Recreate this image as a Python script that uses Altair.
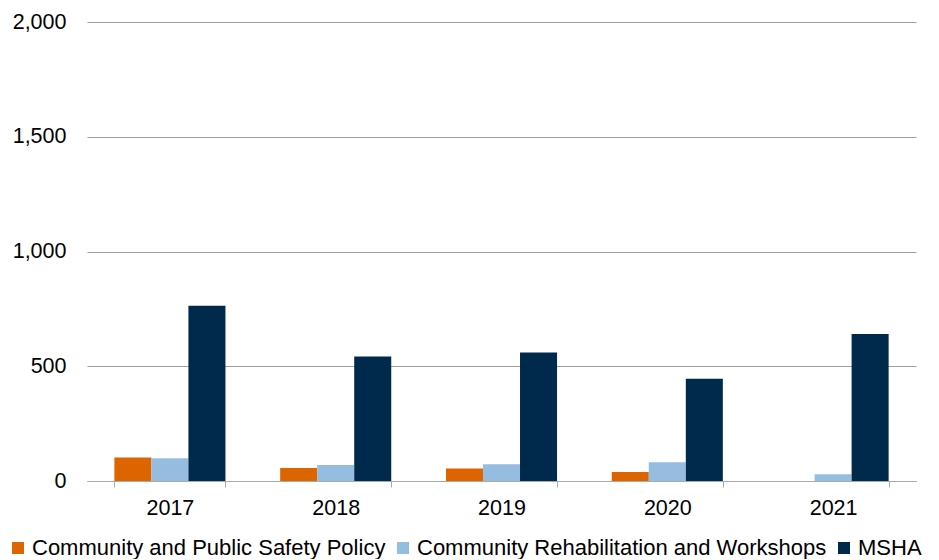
import altair as alt
import pandas as pd

years = ["2017", "2018", "2019", "2020", "2021"]
series = [
    "Community and Public Safety Policy",
    "Community Rehabilitation and Workshops",
    "MSHA",
]
cpsp = [102, 57, 55, 39, 0]
crw = [99, 70, 73, 82, 29]
msha = [764, 542, 560, 446, 640]
colors = ["#DD6500", "#95BDE0", "#002A4C"]

rows = []
for name, vals in zip(series, [cpsp, crw, msha]):
    for y, v in zip(years, vals):
        rows.append({"Year": y, "Series": name, "Value": v})
df = pd.DataFrame(rows)

FONT = "Liberation Sans"

chart = (
    alt.Chart(df)
    .mark_bar()
    .encode(
        x=alt.X(
            "Year:N",
            sort=years,
            scale=alt.Scale(paddingInner=0.33, paddingOuter=0.165),
            axis=alt.Axis(
                title=None,
                labelAngle=0,
                tickBand="extent",
                tickSize=6,
                tickColor="#AAAAAA",
                domainColor="#AAAAAA",
                labelPadding=10,
                labelFontSize=21.5,
                labelFont=FONT,
                labelColor="#000000",
                grid=False,
            ),
        ),
        xOffset=alt.XOffset("Series:N", sort=series, scale=alt.Scale(paddingInner=0, paddingOuter=0)),
        y=alt.Y(
            "Value:Q",
            scale=alt.Scale(domain=[0, 2000]),
            axis=alt.Axis(
                title=None,
                values=[0, 500, 1000, 1500, 2000],
                format=",.0f",
                domain=False,
                ticks=False,
                labelPadding=21,
                labelFontSize=21.5,
                labelFont=FONT,
                labelColor="#000000",
                gridColor="#A0A0A0",
                gridWidth=1,
            ),
        ),
        color=alt.Color(
            "Series:N",
            sort=series,
            scale=alt.Scale(domain=series, range=colors),
            legend=alt.Legend(
                title=None,
                orient="none",
                legendX=-80,
                legendY=515,
                direction="horizontal",
                symbolType="square",
                symbolSize=144,
                symbolStrokeWidth=0,
                symbolOpacity=1,
                labelFontSize=22,
                labelFont=FONT,
                labelColor="#000000",
                labelLimit=0,
                labelOffset=3,
                columnPadding=6,
            ),
        ),
    )
    .properties(
        width=829,
        height=459,
        autosize=alt.AutoSizeParams(type="none"),
        padding={"left": 79, "top": 14, "right": 15, "bottom": 78},
    )
    .configure_view(stroke=None)
)

chart.save("out.html", embed_options={"renderer": "svg", "actions": False})
